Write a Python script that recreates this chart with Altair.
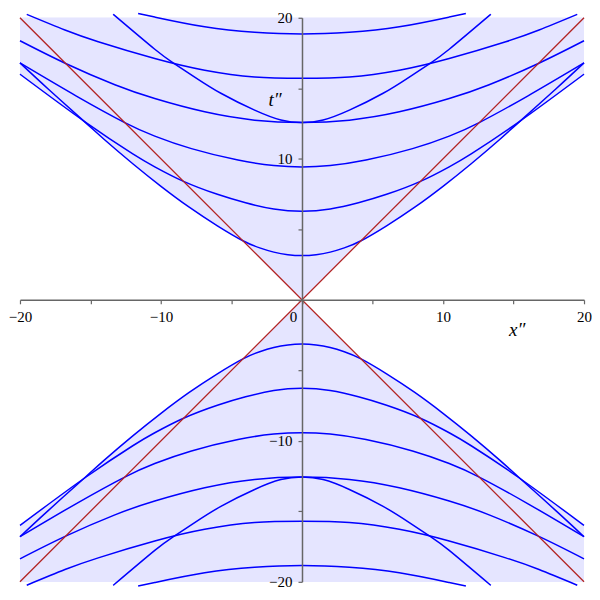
import altair as alt
import pandas as pd

# ---- readings from the picture: upper-right quadrant (x'' >= 0, t'' >= 0) ----
# the figure is symmetric under x'' -> -x'' and t'' -> -t''
C1_X = [0, 1, 2, 3, 4.19, 6, 8, 10, 12, 14, 15.39, 18, 20]                 # vertex at pi
C1_T = [3.14, 3.2, 3.38, 3.68, 4.19, 5.25, 6.57, 8.05, 9.65, 11.35, 12.6, 14.95, 16.8]
C2_X = [0, 2, 4, 6, 8.4, 10.44, 12, 15.39, 20]                             # vertex at 2 pi
C2_T = [6.28, 6.44, 6.88, 7.48, 8.4, 9.43, 10.35, 12.62, 16.0]
C3_X = [0, 2, 4.54, 7.84, 10.44, 12.57, 16.0, 20.0]                         # vertex at 3 pi
C3_T = [9.42, 9.52, 9.91, 10.72, 11.61, 12.57, 14.45, 16.8]
C4_X = [0, 3.36, 6.9, 10.44, 13.27, 16.76, 20.0]                            # vertex at 4 pi
C4_T = [12.57, 12.74, 13.33, 14.27, 15.25, 16.76, 18.37]
C5_X = [0, 3.36, 6.9, 10.44, 14.45, 16.81, 19.52]                           # vertex at 5 pi
C5_T = [15.71, 15.80, 16.28, 17.11, 18.3, 19.13, 20.24]
C6_X = [0, 3.36, 6.9, 10.44, 11.62]                                         # vertex at 6 pi
C6_T = [18.85, 18.97, 19.36, 20.05, 20.3]
CB_X = [0, 1.5, 3.36, 5.72, 7.61, 9.14, 10.44, 13.39]                       # steeper curve from 4 pi
CB_T = [12.57, 12.75, 13.45, 14.63, 15.80, 16.81, 17.77, 20.25]

CONE_X = [-20, 0, 20]          # light cone |t''| = |x''|
CONE_T = [20, 0, 20]
LIGHT_X = [-20, 20]

X_TICKS = [-20, -15, -10, -5, 0, 5, 10, 15, 20]
Y_TICKS = [-20, -15, -10, -5, 0, 5, 10, 15, 20]

BLUE = "#0000FF"
RED = "#B22222"
FILL = "#E5E5FF"
AXIS = "#666666"
FONT = "'Liberation Serif', 'Times New Roman', serif"

curves = {"c1": (C1_X, C1_T), "c2": (C2_X, C2_T), "c3": (C3_X, C3_T),
          "c4": (C4_X, C4_T), "c5": (C5_X, C5_T), "c6": (C6_X, C6_T),
          "cb": (CB_X, CB_T)}

rows = []
for name, (xs_, ts_) in curves.items():
    for sgn in (1, -1):
        pts = {}
        for x, t in zip(xs_, ts_):
            pts[x] = sgn * t
            pts[-x] = sgn * t
        for x in sorted(pts):
            rows.append({"curve": f"{name}{'+' if sgn > 0 else '-'}", "name": name,
                         "x": x, "t": pts[x], "edge": 20 * sgn})
df = pd.DataFrame(rows)
fill_df = df[df["name"].isin(["c1", "c2"])]

cone_rows = []
for sgn in (1, -1):
    for x, t in zip(CONE_X, CONE_T):
        cone_rows.append({"curve": f"cone{sgn}", "x": x, "t": sgn * t, "edge": 20 * sgn})
cone_df = pd.DataFrame(cone_rows)

red_rows = []
for i, sgn in enumerate((1, -1)):
    for x in LIGHT_X:
        red_rows.append({"line": f"l{i}", "x": x, "t": sgn * x})
red_df = pd.DataFrame(red_rows)

xs = alt.Scale(domain=[-20, 20], nice=False, zero=False)
ys = alt.Scale(domain=[-20, 20], nice=False, zero=False)

x_axis = alt.Axis(
    values=X_TICKS, labelExpr="datum.value % 10 === 0 ? datum.label : ''",
    offset=-282.5, grid=False, domainColor=AXIS, domainWidth=1.5,
    tickColor=AXIS, tickWidth=1.2, tickSize=4, labelFont=FONT, labelFontSize=15,
    labelColor="black", labelPadding=6, labelFlush=False, labelOverlap=False,
    labelOffset={"condition": {"test": "datum.value === 0", "value": -9}, "value": 0},
    title="x\u2033", titleX=497.5, titleY=30, titleFont=FONT, titleFontStyle="italic",
    titleFontWeight="normal", titleFontSize=19, titleColor="black",
    titleAlign="center", titleBaseline="middle", zindex=1)
y_axis = alt.Axis(
    values=Y_TICKS,
    labelExpr="datum.value % 10 === 0 && datum.value !== 0 ? datum.label : ''",
    offset=-282.5, grid=False, domainColor=AXIS, domainWidth=1.5,
    tickColor=AXIS, tickWidth=1.2, tickSize=4, labelFont=FONT, labelFontSize=15,
    labelColor="black", labelPadding=6, labelFlush=False, labelOverlap=False,
    title="t\u2033", titleAngle=0, titleX=-27.5, titleY=82, titleFont=FONT,
    titleFontStyle="italic", titleFontWeight="normal", titleFontSize=19,
    titleColor="black", titleAlign="center", titleBaseline="middle", zindex=1)

X = alt.X("x:Q", scale=xs, axis=x_axis, title="x\u2033")
Y = alt.Y("t:Q", scale=ys, axis=y_axis, title="t\u2033")

cone_area = alt.Chart(cone_df).mark_area(color=FILL, interpolate="linear", opacity=1).encode(
    x=X, y=Y, y2="edge:Q", detail="curve:N")

curve_area = alt.Chart(fill_df).mark_area(color=FILL, interpolate="natural", opacity=1).encode(
    x=X, y=Y, y2="edge:Q", detail="curve:N")

blue = alt.Chart(df).mark_line(color=BLUE, strokeWidth=1.5, interpolate="natural", clip=False).encode(
    x=X, y=Y, detail="curve:N")

red = alt.Chart(red_df).mark_line(color=RED, strokeWidth=1.3).encode(
    x=X, y=Y, detail="line:N")

chart = alt.layer(cone_area, curve_area, blue, red).properties(
    width=565, height=565,
    autosize=alt.AutoSizeParams(type="none"),
    padding={"left": 12, "top": 9.3, "right": 8, "bottom": 10},
    background="white",
).configure_view(stroke=None)

chart.save("out.html", embed_options={"renderer": "svg", "actions": False})
